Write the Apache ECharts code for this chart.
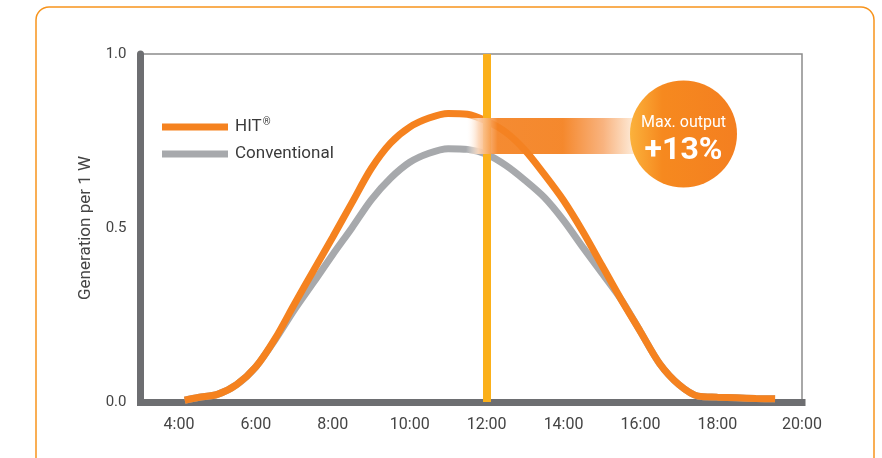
<!DOCTYPE html>
<html>
<head>
<meta charset="utf-8">
<script src="https://cdn.jsdelivr.net/npm/echarts@6/dist/echarts.min.js"></script>
<style>
html,body{margin:0;padding:0;background:#fff;}
#chart{width:882px;height:458px;}
</style>
</head>
<body>
<div id="chart"></div>
<script>
// ---- data ----
const seriesNames = ['HIT®', 'Conventional'];
const hitHours   = [4.15, 4.5, 5.0, 5.5, 6.0, 6.5, 7.0, 7.5, 8.0, 8.5, 9.0, 9.5, 10.0, 10.5, 11.0, 11.5, 12.0, 12.5, 13.0, 13.5, 14.0, 14.5, 15.0, 15.5, 16.0, 16.5, 17.0, 17.5, 18.0, 18.5, 19.0, 19.5];
const hitValues  = [0.005, 0.013, 0.022, 0.050, 0.101, 0.182, 0.281, 0.378, 0.474, 0.573, 0.671, 0.744, 0.790, 0.816, 0.829, 0.827, 0.807, 0.775, 0.723, 0.654, 0.579, 0.490, 0.392, 0.294, 0.202, 0.110, 0.050, 0.017, 0.014, 0.012, 0.010, 0.009];
const convHours  = [4.15, 4.5, 5.0, 5.5, 6.0, 6.5, 7.0, 7.5, 8.0, 8.5, 9.0, 9.5, 10.0, 10.5, 11.0, 11.5, 12.0, 12.5, 13.0, 13.5, 14.0, 14.5, 15.0, 15.5, 16.0, 16.5, 17.0, 17.5, 18.0, 18.5, 19.0, 19.5];
const convValues = [0.005, 0.013, 0.022, 0.050, 0.101, 0.179, 0.265, 0.344, 0.424, 0.501, 0.581, 0.643, 0.689, 0.715, 0.728, 0.726, 0.712, 0.680, 0.637, 0.588, 0.522, 0.445, 0.370, 0.294, 0.202, 0.110, 0.050, 0.017, 0.014, 0.012, 0.010, 0.009];
const noonHour = 12;
const yTicks = [0, 0.5, 1.0];
const badgeTitle = 'Max. output';
const badgeValue = '+13%';
const yAxisTitle = 'Generation per 1 W';

const zip = (xs, ys) => xs.map((x, i) => [x, ys[i]]);

const chart = echarts.init(document.getElementById('chart'), null, {renderer: 'canvas'});
const FONT = 'Roboto, "Noto Sans", sans-serif';

const option = {
  animation: false,
  backgroundColor: '#ffffff',
  textStyle: {fontFamily: FONT},
  grid: {
    left: 140.5, top: 54, width: 661.5, height: 348,
    show: true, borderColor: '#8c8c8c', borderWidth: 1.5, backgroundColor: 'transparent'
  },
  legend: {
    data: seriesNames,
    orient: 'vertical',
    left: 162, top: 117, padding: 0,
    itemWidth: 66, itemHeight: 7, itemGap: 10,
    icon: 'rect',
    selectedMode: false,
    formatter: function (name) {
      return name === 'HIT®' ? '{a|HIT}{s|®}' : '{a|' + name + '}';
    },
    textStyle: {
      fontFamily: FONT, color: '#3a3a3a', fontSize: 17, padding: [0, 0, 0, 2],
      rich: {
        a: {fontFamily: FONT, fontSize: 17, color: '#3a3a3a', lineHeight: 20},
        s: {fontFamily: FONT, fontSize: 10, color: '#3a3a3a', verticalAlign: 'top', lineHeight: 20, padding: [0, 0, 6, 1]}
      }
    }
  },
  xAxis: {
    type: 'value', min: 3, max: 20.2, interval: 1,
    axisLine: {show: true, onZero: false, lineStyle: {color: '#6d6e71', width: 7, cap: 'square'}},
    axisTick: {show: false},
    splitLine: {show: false},
    axisLabel: {
      fontFamily: FONT, fontSize: 16, color: '#444', margin: 15,
      showMinLabel: false, showMaxLabel: true,
      formatter: function (v) { return (Math.round(v) % 2 === 0) ? Math.round(v) + ':00' : ''; }
    }
  },
  yAxis: {
    type: 'value', min: yTicks[0], max: yTicks[yTicks.length - 1], interval: 0.5,
    axisLine: {show: true, lineStyle: {color: '#6d6e71', width: 7}},
    axisTick: {show: false},
    splitLine: {show: false},
    axisLabel: {
      fontFamily: FONT, fontSize: 15, color: '#444', margin: 14,
      formatter: function (v) { return v.toFixed(1); }
    },
    name: yAxisTitle,
    nameLocation: 'middle',
    nameGap: 46,
    nameTextStyle: {fontFamily: FONT, fontSize: 17, color: '#444'}
  },
  series: [
    {
      name: 'Conventional', type: 'line', z: 2,
      data: zip(convHours, convValues),
      smooth: 0.3, showSymbol: false, symbol: 'none',
      lineStyle: {color: '#a7a9ac', width: 7},
      itemStyle: {color: '#a7a9ac'}
    },
    {
      name: 'HIT®', type: 'line', z: 3,
      data: zip(hitHours, hitValues),
      smooth: 0.3, showSymbol: false, symbol: 'none',
      lineStyle: {color: '#f5821f', width: 7},
      itemStyle: {color: '#f5821f'}
    },
    {
      name: 'noon', type: 'line', z: 20, data: [],
      markLine: {
        silent: true, symbol: 'none', animation: false,
        label: {show: false},
        lineStyle: {color: '#fbb01a', width: 8, type: 'solid'},
        data: [{xAxis: noonHour}]
      }
    }
  ],
  graphic: [
    {
      type: 'rect', z: -10, silent: true,
      shape: {x: 36, y: 7, width: 838, height: 490, r: 13},
      style: {fill: 'none', stroke: '#f7941d', lineWidth: 1.5}
    },
    {
      type: 'rect', z: 10, silent: true,
      shape: {x: 466, y: 118, width: 176, height: 36},
      style: {
        fill: new echarts.graphic.LinearGradient(0, 0, 1, 0, [
          {offset: 0, color: 'rgba(255,255,255,0)'},
          {offset: 0.07, color: 'rgba(252,215,185,0.92)'},
          {offset: 0.18, color: 'rgba(244,130,34,0.93)'},
          {offset: 0.55, color: 'rgba(244,130,34,0.95)'},
          {offset: 0.78, color: 'rgba(248,175,120,0.95)'},
          {offset: 1, color: 'rgba(255,250,240,0.95)'}
        ])
      }
    },
    {
      type: 'circle', z: 11, silent: true,
      shape: {cx: 683.5, cy: 134, r: 53.5},
      style: {
        fill: new echarts.graphic.LinearGradient(0, 0, 1, 0, [
          {offset: 0, color: '#fbb23c'},
          {offset: 0.3, color: '#f6891f'},
          {offset: 1, color: '#f47f20'}
        ])
      }
    },
    {
      type: 'text', z: 12, silent: true,
      x: 683.5, y: 123,
      style: {text: badgeTitle, fill: '#ffffff', font: '16px ' + FONT, align: 'center', verticalAlign: 'middle'}
    },
    {
      type: 'text', z: 12, silent: true,
      x: 683.5, y: 151,
      style: {text: badgeValue, fill: '#ffffff', font: 'bold 32px ' + FONT, align: 'center', verticalAlign: 'middle'}
    }
  ]
};
chart.setOption(option);
</script>
</body>
</html>
